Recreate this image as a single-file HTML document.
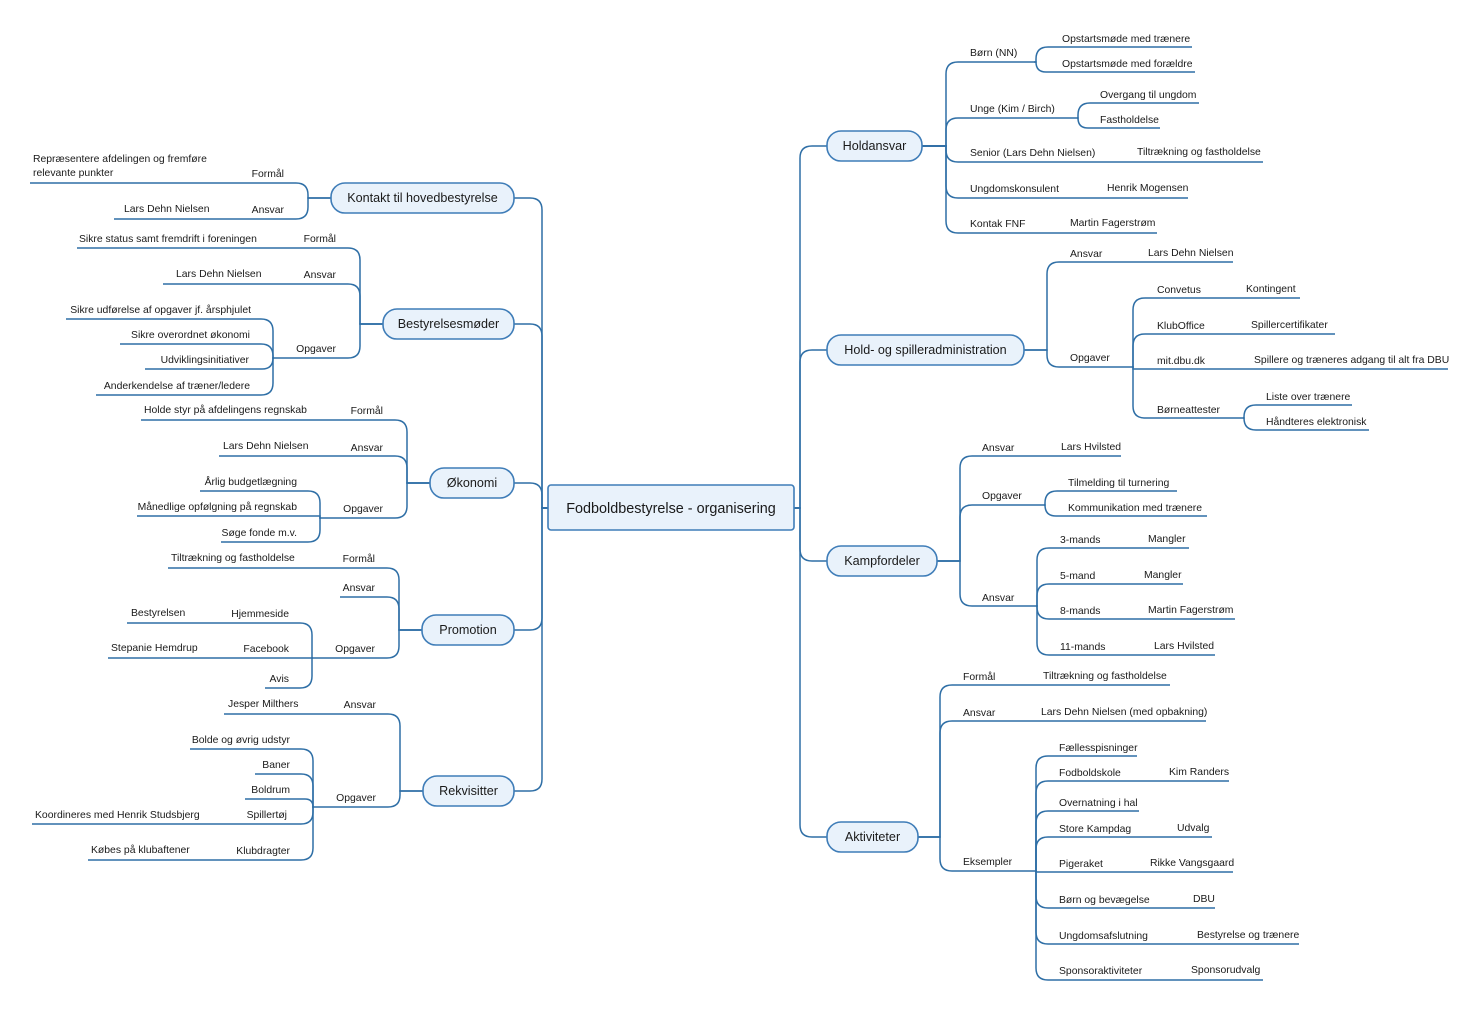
<!DOCTYPE html>
<html><head><meta charset="utf-8"><style>
html,body{margin:0;padding:0;background:#fff;width:1478px;height:1016px;overflow:hidden}
svg{display:block}
text{font-family:"Liberation Sans",sans-serif;font-size:10.4px;fill:#1a1a1a}
.l{text-anchor:end}
.n{font-size:12.6px;text-anchor:middle;fill:#1a1a1a}
.c{font-size:14.4px;text-anchor:middle}
rect{fill:#e9f2fb;stroke:#3f7db8;stroke-width:1.6}
path{fill:none;stroke:#2f6fa6;stroke-width:1.5}
</style></head><body>
<svg id="s" width="1478" height="1016" viewBox="0 0 1478 1016">
<g id="lines"></g>
<rect x="548" y="485" width="246" height="45" rx="3"/>
<text class="c" x="671" y="513">Fodboldbestyrelse - organisering</text>
<rect x="827" y="131" width="95" height="30" rx="14"/><text class="n" x="874.5" y="150">Holdansvar</text>
<rect x="827" y="335" width="197" height="30" rx="14"/><text class="n" x="925.5" y="354">Hold- og spilleradministration</text>
<rect x="827" y="546" width="110" height="30" rx="14"/><text class="n" x="882" y="565">Kampfordeler</text>
<rect x="827" y="822" width="91" height="30" rx="14"/><text class="n" x="872.5" y="841">Aktiviteter</text>
<rect x="331" y="183" width="183" height="30" rx="14"/><text class="n" x="422.5" y="202">Kontakt til hovedbestyrelse</text>
<rect x="383" y="309" width="131" height="30" rx="14"/><text class="n" x="448.5" y="328">Bestyrelsesmøder</text>
<rect x="430" y="468" width="84" height="30" rx="14"/><text class="n" x="472" y="487">Økonomi</text>
<rect x="422" y="615" width="92" height="30" rx="14"/><text class="n" x="468" y="634">Promotion</text>
<rect x="423" y="776" width="91" height="30" rx="14"/><text class="n" x="468.5" y="795">Rekvisitter</text>

<text x="970" y="56">Børn (NN)</text>
<text x="1062" y="42">Opstartsmøde med trænere</text>
<text x="1062" y="67">Opstartsmøde med forældre</text>
<text x="970" y="112">Unge (Kim / Birch)</text>
<text x="1100" y="98">Overgang til ungdom</text>
<text x="1100" y="123">Fastholdelse</text>
<text x="970" y="156">Senior (Lars Dehn Nielsen)</text>
<text x="1137" y="155">Tiltrækning og fastholdelse</text>
<text x="970" y="192">Ungdomskonsulent</text>
<text x="1107" y="191">Henrik Mogensen</text>
<text x="970" y="227">Kontak FNF</text>
<text x="1070" y="226">Martin Fagerstrøm</text>
<text x="1070" y="257">Ansvar</text>
<text x="1148" y="256">Lars Dehn Nielsen</text>
<text x="1070" y="361">Opgaver</text>
<text x="1157" y="293">Convetus</text><text x="1246" y="292">Kontingent</text>
<text x="1157" y="329">KlubOffice</text><text x="1251" y="328">Spillercertifikater</text>
<text x="1157" y="364">mit.dbu.dk</text><text x="1254" y="363">Spillere og træneres adgang til alt fra DBU</text>
<text x="1157" y="413">Børneattester</text>
<text x="1266" y="400">Liste over trænere</text>
<text x="1266" y="425">Håndteres elektronisk</text>
<text x="982" y="451">Ansvar</text><text x="1061" y="450">Lars Hvilsted</text>
<text x="982" y="499">Opgaver</text>
<text x="1068" y="486">Tilmelding til turnering</text>
<text x="1068" y="511">Kommunikation med trænere</text>
<text x="982" y="601">Ansvar</text>
<text x="1060" y="543">3-mands</text><text x="1148" y="542">Mangler</text>
<text x="1060" y="579">5-mand</text><text x="1144" y="578">Mangler</text>
<text x="1060" y="614">8-mands</text><text x="1148" y="613">Martin Fagerstrøm</text>
<text x="1060" y="650">11-mands</text><text x="1154" y="649">Lars Hvilsted</text>
<text x="963" y="680">Formål</text><text x="1043" y="679">Tiltrækning og fastholdelse</text>
<text x="963" y="716">Ansvar</text><text x="1041" y="715">Lars Dehn Nielsen (med opbakning)</text>
<text x="963" y="865">Eksempler</text>
<text x="1059" y="751">Fællesspisninger</text>
<text x="1059" y="776">Fodboldskole</text><text x="1169" y="775">Kim Randers</text>
<text x="1059" y="806">Overnatning i hal</text>
<text x="1059" y="832">Store Kampdag</text><text x="1177" y="831">Udvalg</text>
<text x="1059" y="867">Pigeraket</text><text x="1150" y="866">Rikke Vangsgaard</text>
<text x="1059" y="903">Børn og bevægelse</text><text x="1193" y="902">DBU</text>
<text x="1059" y="939">Ungdomsafslutning</text><text x="1197" y="938">Bestyrelse og trænere</text>
<text x="1059" y="974">Sponsoraktiviteter</text><text x="1191" y="973">Sponsorudvalg</text>

<text class="l" x="284" y="177">Formål</text>
<text x="33" y="162">Repræsentere afdelingen og fremføre</text>
<text x="33" y="176">relevante punkter</text>
<text class="l" x="284" y="213">Ansvar</text>
<text x="124" y="212">Lars Dehn Nielsen</text>
<text class="l" x="336" y="242">Formål</text>
<text x="79" y="242">Sikre status samt fremdrift i foreningen</text>
<text class="l" x="336" y="278">Ansvar</text>
<text x="176" y="277">Lars Dehn Nielsen</text>
<text class="l" x="336" y="352">Opgaver</text>
<text class="l" x="251" y="313">Sikre udførelse af opgaver jf. årsphjulet</text>
<text class="l" x="250" y="338">Sikre overordnet økonomi</text>
<text class="l" x="249" y="363">Udviklingsinitiativer</text>
<text class="l" x="250" y="389">Anderkendelse af træner/ledere</text>
<text class="l" x="383" y="414">Formål</text>
<text x="144" y="413">Holde styr på afdelingens regnskab</text>
<text class="l" x="383" y="451">Ansvar</text>
<text x="223" y="449">Lars Dehn Nielsen</text>
<text class="l" x="383" y="512">Opgaver</text>
<text class="l" x="297" y="485">Årlig budgetlægning</text>
<text class="l" x="297" y="510">Månedlige opfølgning på regnskab</text>
<text class="l" x="297" y="536">Søge fonde m.v.</text>
<text class="l" x="375" y="562">Formål</text>
<text x="171" y="561">Tiltrækning og fastholdelse</text>
<text class="l" x="375" y="591">Ansvar</text>
<text class="l" x="375" y="652">Opgaver</text>
<text class="l" x="289" y="617">Hjemmeside</text><text x="131" y="616">Bestyrelsen</text>
<text class="l" x="289" y="652">Facebook</text><text x="111" y="651">Stepanie Hemdrup</text>
<text class="l" x="289" y="682">Avis</text>
<text class="l" x="376" y="708">Ansvar</text>
<text x="228" y="707">Jesper Milthers</text>
<text class="l" x="376" y="801">Opgaver</text>
<text class="l" x="290" y="743">Bolde og øvrig udstyr</text>
<text class="l" x="290" y="768">Baner</text>
<text class="l" x="290" y="793">Boldrum</text>
<text class="l" x="287" y="818">Spillertøj</text><text x="35" y="818">Koordineres med Henrik Studsbjerg</text>
<text class="l" x="290" y="854">Klubdragter</text><text x="91" y="853">Købes på klubaftener</text>
</svg>
<script>
var L=[
[794,508,800,146,827],[794,508,800,350,827],[794,508,800,561,827],[794,508,800,837,827],
[548,508,542,198,514],[548,508,542,324,514],[548,508,542,483,514],[548,508,542,630,514],[548,508,542,791,514],
[922,146,946,62,1034],[922,146,946,118,1077],[922,146,946,162,1263],[922,146,946,198,1188],[922,146,946,233,1157],
[1034,62,1036,47,1192],[1034,62,1036,72,1195],[1077,118,1078,103,1199],[1077,118,1078,128,1160],
[1024,350,1047,262,1233],[1024,350,1047,367,1132],
[1132,367,1133,298,1300],[1132,367,1133,334,1335],[1132,367,1133,369,1448],[1132,367,1133,418,1243],
[1243,418,1244,405,1352],[1243,418,1244,430,1369],
[937,561,960,456,1121],[937,561,960,505,1044],[937,561,960,606,1036],
[1044,505,1045,491,1177],[1044,505,1045,516,1207],
[1036,606,1037,548,1189],[1036,606,1037,584,1183],[1036,606,1037,619,1235],[1036,606,1037,655,1215],
[918,837,940,685,1170],[918,837,940,721,1206],[918,837,940,871,1035],
[1035,871,1036,756,1137],[1035,871,1036,781,1229],[1035,871,1036,811,1139],[1035,871,1036,837,1212],[1035,871,1036,872,1233],[1035,871,1036,908,1215],[1035,871,1036,944,1299],[1035,871,1036,980,1263],
[331,198,308,183,30],[331,198,308,219,114],
[383,324,360,248,77],[383,324,360,284,163],[383,324,360,358,274],
[274,358,273,319,66],[274,358,273,344,120],[274,358,273,369,145],[274,358,273,395,96],
[430,483,407,420,141],[430,483,407,456,219],[430,483,407,518,321],
[321,518,320,491,200],[321,518,320,516,137],[321,518,320,542,221],
[422,630,399,568,168],[422,630,399,597,340],[422,630,399,658,313],
[313,658,312,623,127],[313,658,312,658,108],[313,658,312,688,265],
[423,791,400,714,224],[423,791,400,807,314],
[314,807,313,749,190],[314,807,313,774,255],[314,807,313,799,245],[314,807,313,824,32],[314,807,313,860,88]
];
var g=document.getElementById('lines'),h='';
L.forEach(function(a){var px=a[0],py=a[1],tx=a[2],cy=a[3],ex=a[4];
var dy=cy-py,s=ex>tx?1:-1,d;
if(Math.abs(dy)<3){d='M'+px+' '+py+' H'+tx+' L'+tx+' '+cy+' H'+ex;}
else{var r=Math.min(12,Math.abs(dy)),v=dy>0?1:-1;
d='M'+px+' '+py+' H'+tx+' V'+(cy-v*r)+' Q'+tx+' '+cy+' '+(tx+s*r)+' '+cy+' H'+ex;}
h+='<path d="'+d+'"/>';});
g.innerHTML=h;
</script>
</body></html>
